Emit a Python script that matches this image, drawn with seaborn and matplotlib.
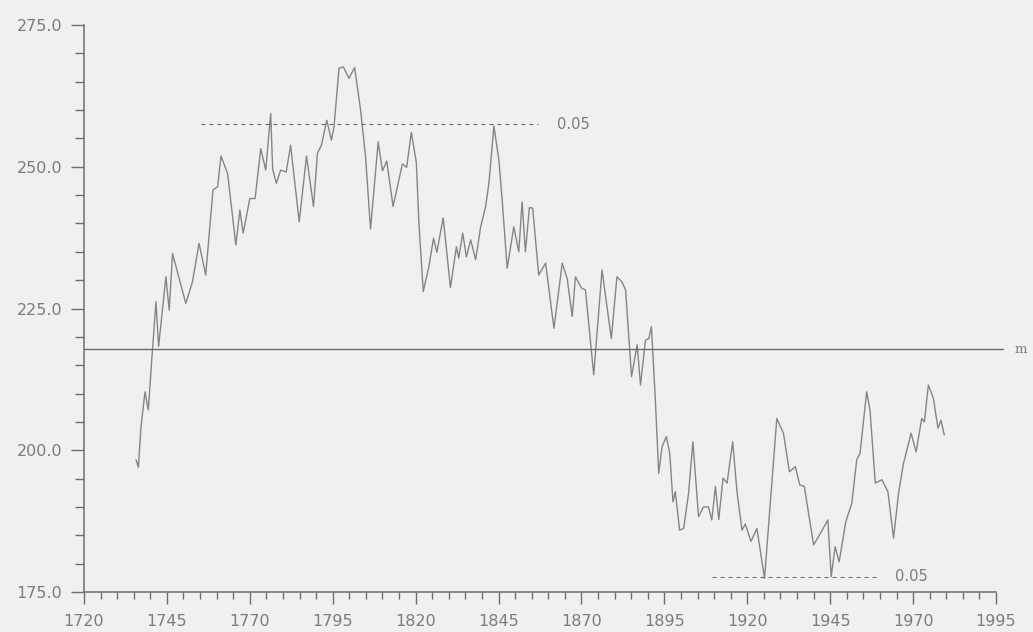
import matplotlib
matplotlib.use("Agg")
import matplotlib.pyplot as plt
from matplotlib.ticker import MultipleLocator, FuncFormatter
import seaborn as sns
import pandas as pd

# Series: year and smoothed index value
years = [
    1735.7, 1736.4, 1737.2, 1738.4, 1739.4, 1740.5, 1741.7, 1742.5, 1744.7, 1745.7,
    1746.7, 1750.7, 1752.7, 1754.7, 1756.7, 1758.9, 1760.3, 1761.3, 1763.3, 1765.8,
    1767.0, 1768.0, 1770.0, 1771.6, 1773.3, 1774.8, 1776.3, 1776.9, 1778.0, 1779.3,
    1781.0, 1782.3, 1784.9, 1787.1, 1789.2, 1790.4, 1791.6, 1793.2, 1794.6, 1795.4,
    1796.9, 1798.2, 1799.9, 1801.6, 1803.4, 1804.9, 1806.4, 1808.7, 1810.0, 1811.3,
    1813.2, 1816.0, 1817.3, 1818.7, 1820.2, 1821.0, 1822.3, 1824.0, 1825.4, 1826.4,
    1828.3, 1830.5, 1832.3, 1833.0, 1834.2, 1835.3, 1836.6, 1838.1, 1839.6, 1840.1,
    1841.1, 1842.1, 1843.6, 1845.1, 1846.1, 1847.6, 1849.6, 1851.1, 1852.1, 1853.1,
    1854.3, 1855.3, 1857.1, 1859.2, 1861.7, 1864.2, 1865.7, 1867.2, 1868.2, 1870.0,
    1871.2, 1873.7, 1876.2, 1879.0, 1880.7, 1882.2, 1883.3, 1885.1, 1886.8, 1887.8,
    1889.3, 1890.3, 1891.1, 1892.3, 1893.3, 1894.3, 1895.6, 1896.6, 1897.6, 1898.3,
    1899.6, 1900.8, 1902.3, 1903.6, 1905.3, 1906.8, 1908.3, 1909.3, 1910.4, 1911.4,
    1912.7, 1913.9, 1915.6, 1916.9, 1918.4, 1919.4, 1921.1, 1922.9, 1925.2, 1928.9,
    1930.9, 1932.7, 1934.5, 1935.8, 1937.2, 1940.0, 1942.0, 1944.3, 1945.3, 1946.5,
    1947.7, 1949.7, 1951.5, 1953.0, 1954.0, 1956.0, 1957.0, 1958.6, 1960.6, 1962.4,
    1964.1, 1965.6, 1967.1, 1969.4, 1970.9, 1972.6, 1973.4, 1974.6, 1976.1, 1977.5,
    1978.4, 1979.4,
]
values = [
    198.3, 197.0, 204.2, 210.3, 207.1, 216.5, 226.2, 218.3, 230.6, 224.7,
    234.7, 225.9, 229.7, 236.5, 230.9, 245.9, 246.5, 251.9, 248.8, 236.2,
    242.4, 238.3, 244.4, 244.4, 253.2, 249.4, 259.4, 249.5, 247.1, 249.4,
    249.1, 253.8, 240.3, 251.9, 243.0, 252.4, 253.8, 258.2, 254.7, 257.1,
    267.4, 267.6, 265.6, 267.5, 260.0, 251.8, 239.0, 254.4, 249.3, 251.0,
    243.0, 250.5, 249.9, 256.1, 250.8, 240.0, 228.0, 232.4, 237.4, 234.9,
    241.0, 228.7, 235.9, 233.9, 238.3, 234.1, 237.1, 233.6, 239.4, 240.6,
    243.0, 247.1, 257.2, 251.2, 244.1, 232.1, 239.4, 235.0, 243.8, 235.0,
    242.8, 242.7, 230.9, 233.0, 221.5, 233.0, 230.3, 223.6, 230.6, 228.6,
    228.3, 213.3, 231.8, 219.7, 230.6, 229.7, 228.3, 213.0, 218.6, 211.5,
    219.4, 219.7, 221.8, 208.6, 195.9, 200.6, 202.4, 199.5, 190.9, 192.7,
    185.9, 186.2, 192.4, 201.5, 188.3, 190.0, 190.0, 187.7, 193.6, 187.8,
    195.1, 194.2, 201.5, 192.7, 185.9, 187.0, 183.9, 186.2, 177.4, 205.6,
    203.0, 196.2, 197.1, 193.9, 193.6, 183.3, 185.3, 187.7, 177.7, 183.0,
    180.3, 187.4, 190.6, 198.3, 199.5, 210.3, 207.1, 194.2, 194.8, 192.7,
    184.5, 192.4, 197.7, 203.0, 199.7, 205.6, 205.0, 211.5, 209.2, 203.9,
    205.3, 202.7,
]

# Reference levels
mean_level = 217.8
upper_level = 257.5
upper_span = [1755.2, 1857.0]
lower_level = 177.7
lower_span = [1909.4, 1959.5]
level_label = "0.05"
mean_label = "m"

x_ticks = [1720, 1745, 1770, 1795, 1820, 1845, 1870, 1895, 1920, 1945, 1970, 1995]
y_ticks = [175.0, 200.0, 225.0, 250.0, 275.0]

bg = "#f0f0f0"
ink = "#7c7c7c"
axis_ink = "#6e6e6e"

sns.set_style("white")
plt.rcParams["font.family"] = ["DejaVu Sans"]

fig = plt.figure(figsize=(10.33, 6.32), dpi=100, facecolor=bg)
ax = fig.add_axes([0.0813, 0.0633, 0.8829, 0.8971])
ax.set_facecolor(bg)

df = pd.DataFrame({"year": years, "value": values})
sns.lineplot(data=df, x="year", y="value", ax=ax, color="#858585",
             linewidth=1.0, estimator=None, sort=False)

# Mean line running slightly past the axis end
ax.plot([x_ticks[0], 1997.0], [mean_level, mean_level], color="#6a6a6a",
        linewidth=1.0, clip_on=False)
ax.text(2000.6, mean_level, mean_label, color=ink, fontsize=9.5,
        family="DejaVu Serif", va="center", ha="left", clip_on=False)

# Significance bounds
dash = (0, (3.6, 3.6))
ax.plot(upper_span, [upper_level, upper_level], color="#6a6a6a",
        linewidth=0.8, linestyle=dash)
ax.text(1862.6, upper_level, level_label, color=ink, fontsize=10.5,
        va="center", ha="left")
ax.plot(lower_span, [lower_level, lower_level], color="#6a6a6a",
        linewidth=0.8, linestyle=dash)
ax.text(1964.6, lower_level, level_label, color=ink, fontsize=10.5,
        va="center", ha="left")

ax.set_xlim(x_ticks[0], x_ticks[-1])
ax.set_ylim(y_ticks[0], y_ticks[-1])
ax.set_xticks(x_ticks)
ax.set_yticks(y_ticks)
ax.xaxis.set_minor_locator(MultipleLocator(5))
ax.yaxis.set_minor_locator(MultipleLocator(5))
ax.yaxis.set_major_formatter(FuncFormatter(lambda v, p: f"{v:.1f}"))
ax.set_xlabel("")
ax.set_ylabel("")

for side in ("top", "right"):
    ax.spines[side].set_visible(False)
for side in ("left", "bottom"):
    ax.spines[side].set_color(axis_ink)
    ax.spines[side].set_linewidth(1.1)

ax.tick_params(axis="both", which="major", direction="out", color=axis_ink,
               width=1.0, labelcolor=ink, labelsize=11.5)
ax.tick_params(axis="y", which="major", length=9.5, pad=6)
ax.tick_params(axis="y", which="minor", length=6.5, width=1.0, color=axis_ink)
ax.tick_params(axis="x", which="major", length=8.5, pad=7)
ax.tick_params(axis="x", which="minor", length=5.0, width=1.0, color=axis_ink)
ax.tick_params(left=True, bottom=True, which="both")

fig.savefig("out.png", dpi=100, facecolor=bg)
